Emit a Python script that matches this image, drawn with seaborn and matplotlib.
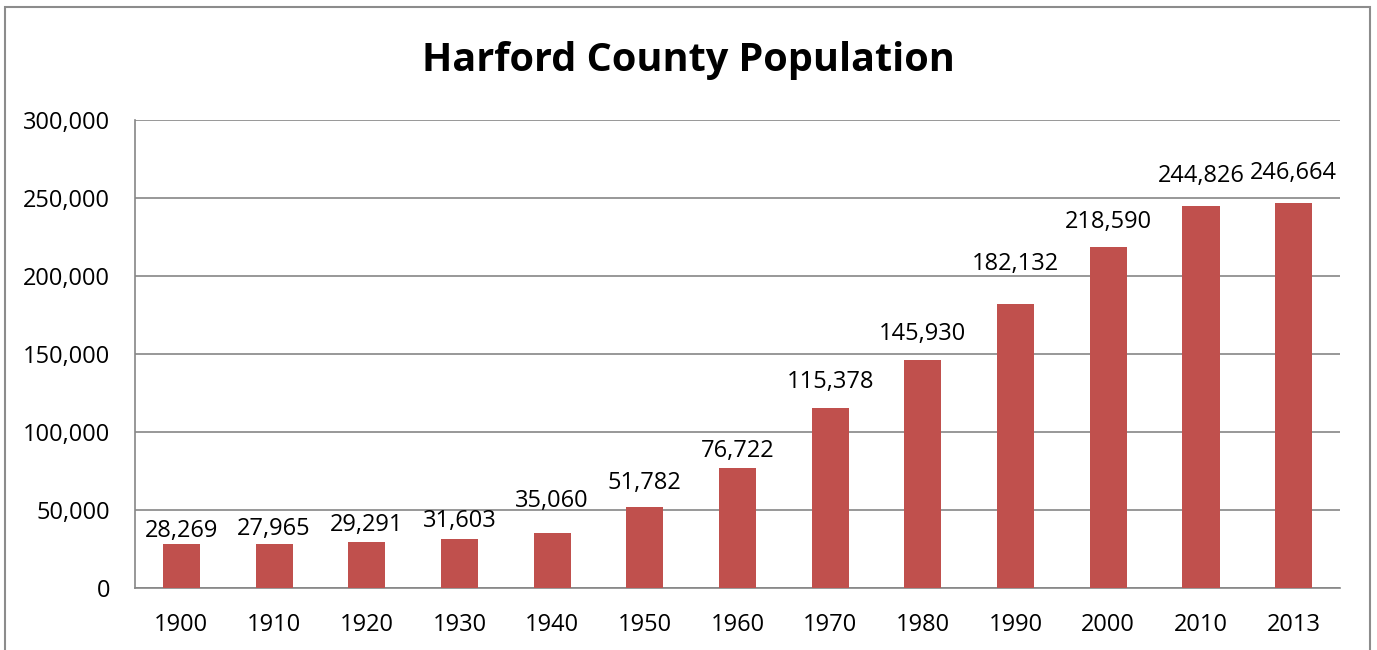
import matplotlib
matplotlib.use("Agg")
import pandas as pd
import seaborn as sns
import matplotlib.pyplot as plt
from matplotlib.patches import Rectangle
from matplotlib.ticker import FuncFormatter

# --- Data ---
years = ['1900', '1910', '1920', '1930', '1940', '1950', '1960',
         '1970', '1980', '1990', '2000', '2010', '2013']
population = [28269, 27965, 29291, 31603, 35060, 51782, 76722,
              115378, 145930, 182132, 218590, 244826, 246664]
# gap between bar top and data label (px), labels were hand-placed in the original
label_gap_px = [7, 9, 11, 12, 26, 18, 11, 20, 20, 34, 19, 24, 24]

BAR_COLOR = '#C0504D'
GRID_COLOR = '#868686'

df = pd.DataFrame({'Year': years, 'Population': population})

sns.set_style('white')
plt.rcParams['font.family'] = ['Open Sans', 'DejaVu Sans']
plt.rcParams['text.color'] = 'black'

fig = plt.figure(figsize=(13.77, 6.5), dpi=100)

# outer chart border
fig.patches.append(Rectangle((5 / 1377, -0.05), 1365 / 1377, 1.05 - 7 / 650,
                             transform=fig.transFigure, fill=False,
                             edgecolor='#8c8c8c', linewidth=1.5))

ax = fig.add_axes([135 / 1377, 62 / 650, 1205 / 1377, 468 / 650])
sns.barplot(data=df, x='Year', y='Population', color=BAR_COLOR,
            width=0.4, saturation=1, linewidth=0, ax=ax, zorder=3)

ax.set_ylim(0, 300000)
ax.set_yticks(range(0, 300001, 50000))
ax.yaxis.set_major_formatter(FuncFormatter(lambda v, p: f'{int(v):,}'))
ax.grid(axis='y', color=GRID_COLOR, linewidth=1.2, zorder=0)
ax.set_axisbelow(True)
ax.set_xlabel('')
ax.set_ylabel('')
ax.tick_params(axis='both', length=0, labelsize=17, colors='black')
ax.tick_params(axis='y', pad=18)
ax.tick_params(axis='x', pad=18)

for side in ['top', 'right']:
    ax.spines[side].set_visible(False)
for side in ['left', 'bottom']:
    ax.spines[side].set_color(GRID_COLOR)
    ax.spines[side].set_linewidth(1.2)

for i, (v, gap) in enumerate(zip(population, label_gap_px)):
    ax.annotate(f'{v:,}', (i, v), xytext=(0, gap), textcoords='offset pixels',
                ha='center', va='baseline', fontsize=17, color='black')

fig.text(688 / 1377, 1 - 60 / 650, 'Harford County Population',
         ha='center', va='center', fontsize=28.5, weight='bold', color='black')

fig.savefig('out.png', dpi=100)
